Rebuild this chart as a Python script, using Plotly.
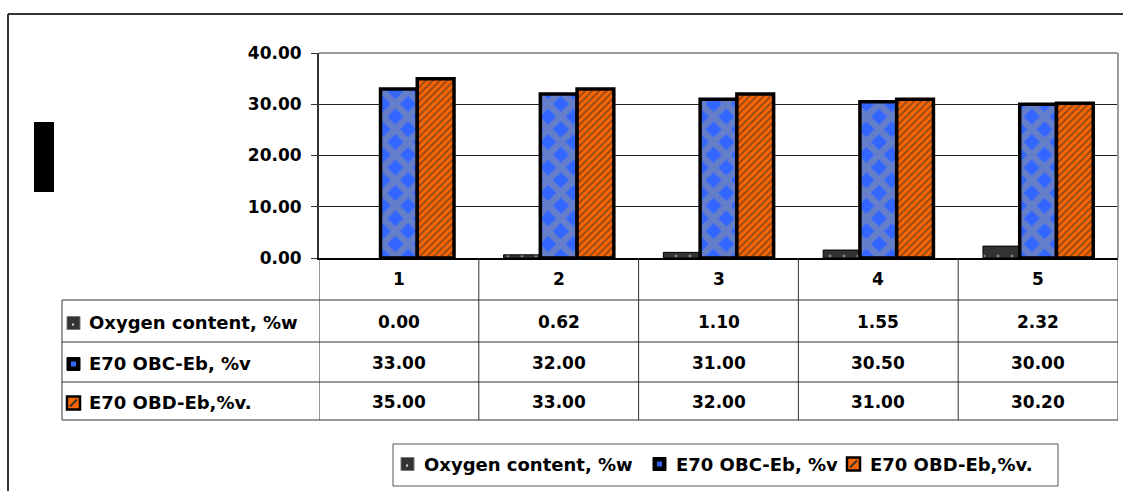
import plotly.graph_objects as go

# ---- data -------------------------------------------------------------
categories = ["1", "2", "3", "4", "5"]
series_names = ["Oxygen content, %w", "E70 OBC-Eb, %v", "E70 OBD-Eb,%v."]
oxygen_content = [0.00, 0.62, 1.10, 1.55, 2.32]
obc_eb = [33.00, 32.00, 31.00, 30.50, 30.00]
obd_eb = [35.00, 33.00, 32.00, 31.00, 30.20]
y_ticks = [0, 10, 20, 30, 40]

series_values = [oxygen_content, obc_eb, obd_eb]

# ---- canvas helpers (pixel -> paper) ----------------------------------
W, H = 1123, 491
FONT = "DejaVu Sans"


def px(x):
    return x / W


def py(y):
    return 1 - y / H


# plot area in pixels
PL, PR, PT, PB = 319, 1118, 53, 258
# table rows (pixel y boundaries)
ROW_LINES = [300, 342, 382, 420]
TABLE_LEFT = 62

# outline widths per series; empty (zero) bars get no outline
outline_widths = [1, 3.5, 3.5]

bar_styles = [
    dict(
        color="#333333",
        pattern=dict(shape=".", fgcolor="#d8d8d8", bgcolor="#333333",
                     size=14, solidity=0.04),
    ),
    dict(
        color="#3366ff",
        pattern=dict(shape="x", fgcolor="#969696", bgcolor="#3366ff",
                     size=18, solidity=0.6),
    ),
    dict(
        color="#ff6600",
        pattern=dict(shape="/", fgcolor="#333333", bgcolor="#ff6600",
                     size=5, solidity=0.45),
    ),
]

fig = go.Figure()
for name, vals, style, lw in zip(series_names, series_values, bar_styles,
                                 outline_widths):
    marker = dict(style)
    marker["line"] = dict(color="#000000",
                          width=[lw if v != 0 else 0 for v in vals])
    fig.add_trace(go.Bar(x=categories, y=vals, name=name, marker=marker,
                         showlegend=False, hoverinfo="x+y+name"))

shapes = []
annotations = []

# outer chart frame (left and top edges)
shapes.append(dict(type="line", xref="paper", yref="paper",
                   x0=px(8), x1=px(8), y0=py(14), y1=py(H),
                   line=dict(color="#333333", width=2)))
shapes.append(dict(type="line", xref="paper", yref="paper",
                   x0=px(8), x1=px(W), y0=py(14), y1=py(14),
                   line=dict(color="#333333", width=2)))

# black block left of the value axis
shapes.append(dict(type="rect", xref="paper", yref="paper",
                   x0=px(34), x1=px(54), y0=py(122), y1=py(192),
                   fillcolor="#000000", line=dict(width=0)))

# grey plot-area border (top and right)
shapes.append(dict(type="line", xref="paper", yref="paper", layer="above",
                   x0=px(PL), x1=px(PR), y0=py(PT), y1=py(PT),
                   line=dict(color="#999999", width=2)))
shapes.append(dict(type="line", xref="paper", yref="paper", layer="above",
                   x0=px(PR), x1=px(PR), y0=py(PT), y1=py(PB),
                   line=dict(color="#999999", width=2)))

# data table: vertical lines at category boundaries
n = len(categories)
for k in range(n + 1):
    shapes.append(dict(type="line", xref="x", yref="paper",
                       x0=k - 0.5, x1=k - 0.5, y0=py(PB), y1=py(ROW_LINES[-1]),
                       line=dict(color="#333333", width=1)))
# left edge of the row-label column
shapes.append(dict(type="line", xref="paper", yref="paper",
                   x0=px(TABLE_LEFT), x1=px(TABLE_LEFT),
                   y0=py(ROW_LINES[0]), y1=py(ROW_LINES[-1]),
                   line=dict(color="#333333", width=1)))
# horizontal lines
for yl in ROW_LINES:
    shapes.append(dict(type="line", xref="paper", yref="paper",
                       x0=px(TABLE_LEFT), x1=px(PR), y0=py(yl), y1=py(yl),
                       line=dict(color="#333333", width=1)))

# category labels in the header row (placed by category index)
for k, c in enumerate(categories):
    annotations.append(dict(x=k, xref="x", y=py(279), yref="paper",
                            text=c, showarrow=False, xanchor="center",
                            yanchor="middle",
                            font=dict(family=FONT, size=17, color="#000000",
                                      weight="bold")))


def legend_key(i, x0, yc):
    """Small swatch for series i with its left edge at x0 and centre yc."""
    s = 13
    y0, y1 = yc - s / 2, yc + s / 2
    out = []
    if i == 0:
        out.append(dict(type="rect", xref="paper", yref="paper",
                        x0=px(x0), x1=px(x0 + s), y0=py(y1), y1=py(y0),
                        fillcolor="#333333", line=dict(color="#777777", width=1)))
        out.append(dict(type="rect", xref="paper", yref="paper",
                        x0=px(x0 + 5), x1=px(x0 + 7), y0=py(y0 + 9), y1=py(y0 + 7),
                        fillcolor="#d8d8d8", line=dict(width=0)))
    elif i == 1:
        out.append(dict(type="rect", xref="paper", yref="paper",
                        x0=px(x0), x1=px(x0 + s), y0=py(y1), y1=py(y0),
                        fillcolor="#000000", line=dict(color="#000000", width=1)))
        out.append(dict(type="rect", xref="paper", yref="paper",
                        x0=px(x0 + 4), x1=px(x0 + 9), y0=py(y0 + 9), y1=py(y0 + 4),
                        fillcolor="#3366ff", line=dict(width=0)))
    else:
        out.append(dict(type="rect", xref="paper", yref="paper",
                        x0=px(x0), x1=px(x0 + s), y0=py(y1), y1=py(y0),
                        fillcolor="#ff6600", line=dict(color="#000000", width=2.5)))
        out.append(dict(type="line", xref="paper", yref="paper",
                        x0=px(x0 + 3), x1=px(x0 + 10), y0=py(y1 - 3), y1=py(y0 + 3),
                        line=dict(color="#333333", width=2)))
    return out


# row labels with swatches, and the values per category
row_centres = [(ROW_LINES[r] + ROW_LINES[r + 1]) / 2 for r in range(3)]
for i, (name, vals) in enumerate(zip(series_names, series_values)):
    yc = row_centres[i]
    shapes.extend(legend_key(i, 67, yc + 2))
    annotations.append(dict(x=px(87), xref="paper", y=py(yc + 1), yref="paper",
                            text=name, showarrow=False, xanchor="left",
                            yanchor="middle",
                            font=dict(family=FONT, size=18, color="#000000",
                                      weight="bold")))
    for k, v in enumerate(vals):
        annotations.append(dict(x=k, xref="x", y=py(yc + 1), yref="paper",
                                text=f"{v:.2f}", showarrow=False,
                                xanchor="center", yanchor="middle",
                                font=dict(family=FONT, size=17, color="#000000",
                                          weight="bold")))

# legend box below the table
LEG_L, LEG_R, LEG_T, LEG_B = 393, 1058, 444, 486
shapes.append(dict(type="rect", xref="paper", yref="paper",
                   x0=px(LEG_L), x1=px(LEG_R), y0=py(LEG_B), y1=py(LEG_T),
                   fillcolor="rgba(0,0,0,0)", line=dict(color="#555555", width=1)))
leg_key_x = [401, 653, 847]
leg_yc = 464
for i, name in enumerate(series_names):
    shapes.extend(legend_key(i, leg_key_x[i], leg_yc))
    annotations.append(dict(x=px(leg_key_x[i] + 21), xref="paper", y=py(leg_yc),
                            yref="paper", text=name, showarrow=False,
                            xanchor="left", yanchor="middle",
                            font=dict(family=FONT, size=18, color="#000000",
                                      weight="bold")))

fig.update_layout(
    width=W, height=H,
    autosize=False,
    margin=dict(l=0, r=0, t=0, b=0, pad=0, autoexpand=False),
    paper_bgcolor="#ffffff",
    plot_bgcolor="#ffffff",
    barmode="group",
    bargap=0.31,
    bargroupgap=0,
    font=dict(family=FONT, size=17, color="#000000", weight="bold"),
    xaxis=dict(
        domain=[px(PL), px(PR)],
        type="category",
        range=[-0.5, n - 0.5],
        showticklabels=False,
        ticks="",
        showgrid=False,
        showline=True, linecolor="#000000", linewidth=2,
        automargin=False,
        fixedrange=True,
    ),
    yaxis=dict(
        domain=[py(PB), py(PT)],
        range=[0, 40],
        tickvals=y_ticks,
        tickformat=".2f",
        ticks="outside", ticklen=6, tickcolor="#333333", tickwidth=1,
        ticklabelstandoff=6,
        showgrid=True, gridcolor="#222222", gridwidth=1,
        zeroline=False,
        showline=True, linecolor="#333333", linewidth=2,
        tickfont=dict(family=FONT, size=17, color="#000000", weight="bold"),
        automargin=False,
        fixedrange=True,
    ),
    shapes=shapes,
    annotations=annotations,
)

fig.write_html("out.html")
